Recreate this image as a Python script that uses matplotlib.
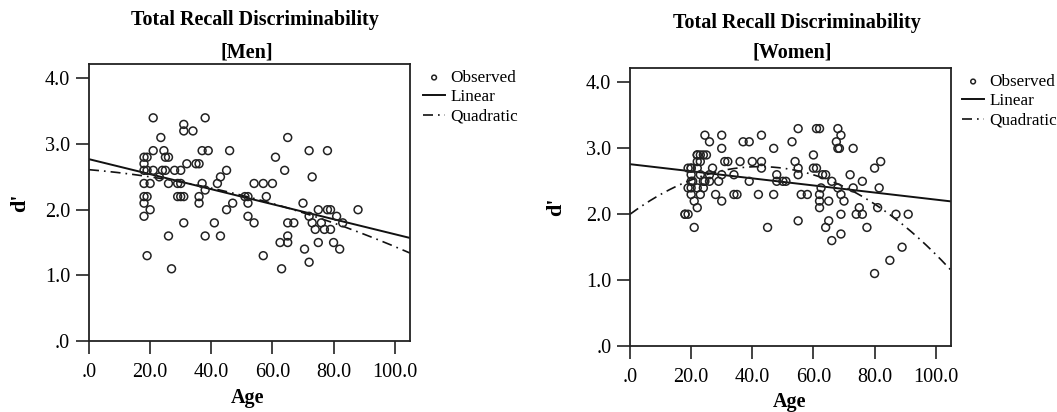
import numpy as np
import matplotlib
matplotlib.use('Agg')
import matplotlib.pyplot as plt
from matplotlib.ticker import FuncFormatter

plt.rcParams['font.family'] = ['Liberation Serif', 'DejaVu Serif']

# Men: age and d' values
men_age = [18, 18, 19, 18, 19, 18, 18, 19, 18, 18, 19, 20, 20, 21, 21, 21,
           23.5, 23, 24, 25, 24.5, 25, 26, 26, 26, 27, 28, 29, 30, 30, 29, 30, 31,
           31, 31, 31, 32, 34, 35, 36, 37, 36, 36, 37, 39, 38, 38, 38, 41, 42,
           43, 43, 45, 45, 46, 47, 51, 52, 52, 52, 54, 54, 57, 57, 58, 60, 61,
           62.5, 63, 64, 65, 65, 67, 65, 65, 70, 70.5, 72, 72, 72, 73, 73, 74,
           75, 75, 76, 77, 78, 78, 79, 79, 80, 81, 82, 83, 88]
men_d = [2.7, 2.8, 2.8, 2.6, 2.6, 2.4, 2.2, 2.2, 2.1, 1.9, 1.3, 2.4, 2.0, 2.6, 2.9, 3.4,
         3.1, 2.5, 2.6, 2.6, 2.9, 2.8, 2.8, 2.4, 1.6, 1.1, 2.6, 2.4, 2.4, 2.6, 2.2, 2.2, 2.2,
         3.3, 3.2, 1.8, 2.7, 3.2, 2.7, 2.7, 2.4, 2.2, 2.1, 2.9, 2.9, 3.4, 2.3, 1.6, 1.8, 2.4,
         2.5, 1.6, 2.6, 2.0, 2.9, 2.1, 2.2, 2.2, 2.1, 1.9, 2.4, 1.8, 2.4, 1.3, 2.2, 2.4, 2.8,
         1.5, 1.1, 2.6, 3.1, 1.8, 1.8, 1.6, 1.5, 2.1, 1.4, 2.9, 1.9, 1.2, 1.8, 2.5, 1.7,
         2.0, 1.5, 1.8, 1.7, 2.9, 2.0, 2.0, 1.7, 1.5, 1.9, 1.4, 1.8, 2.0]

# Women
women_age = [18, 18, 19, 19, 19, 20, 20, 20, 20, 20, 20, 20.5, 21, 21, 22,
             22, 22, 23, 24, 25, 22, 23, 22, 22, 23, 23, 24, 24, 24.5, 24.5,
             26, 26, 26, 27, 28, 29, 30, 30, 30, 30, 31, 32, 34, 34, 35, 36,
             37, 39, 39, 40, 42, 43, 43, 43, 45, 47, 47, 48, 48, 50, 51, 53,
             54, 55, 55, 55, 55, 56, 58, 60, 60, 61, 61, 62, 62, 62, 62, 62.5,
             63, 64, 64, 65, 65, 66, 66, 68, 67.5, 68, 68.5, 69, 68, 69, 69, 69,
             70, 72, 73, 73, 74, 75, 76, 76, 77.5, 80, 80, 81, 81.5, 82, 85,
             87, 89, 91]
women_d = [2.0, 2.0, 2.0, 2.4, 2.7, 2.7, 2.7, 2.6, 2.5, 2.4, 2.3, 2.5, 2.2, 1.8, 2.1,
           2.9, 2.9, 2.9, 2.9, 2.9, 2.8, 2.8, 2.7, 2.4, 2.6, 2.3, 2.4, 2.5, 2.5, 3.2,
           3.1, 2.5, 2.6, 2.7, 2.3, 2.5, 3.2, 3.0, 2.6, 2.2, 2.8, 2.8, 2.6, 2.3, 2.3, 2.8,
           3.1, 3.1, 2.5, 2.8, 2.3, 2.8, 2.7, 3.2, 1.8, 2.3, 3.0, 2.6, 2.5, 2.5, 2.5, 3.1,
           2.8, 2.7, 2.6, 3.3, 1.9, 2.3, 2.3, 2.9, 2.7, 2.7, 3.3, 3.3, 2.3, 2.2, 2.1, 2.4,
           2.6, 2.6, 1.8, 2.2, 1.9, 2.5, 1.6, 3.3, 3.1, 3.0, 3.0, 3.2, 2.4, 2.3, 2.0, 1.7,
           2.2, 2.6, 3.0, 2.4, 2.0, 2.1, 2.0, 2.5, 1.8, 2.7, 1.1, 2.1, 2.4, 2.8, 1.3,
           2.0, 1.5, 2.0]

# fitted curve coefficients, highest power first
men_linear = [-0.01143, 2.77]
men_quad = [-0.0000781, -0.0039, 2.61]
women_linear = [-0.00538, 2.76]
women_quad = [-0.0004016, 0.03407, 2.0]

x_ticks = [0, 20, 40, 60, 80, 100]
y_ticks = [0, 1, 2, 3, 4]


def spss_fmt(v, pos):
    s = f"{v:.1f}"
    return s[1:] if s.startswith("0") else s


fig = plt.figure(figsize=(10.57, 4.12), dpi=100)
dash_dot = (0, (6, 3, 1, 3))


def draw_panel(rect, age, d, lin, quad, group, title_xy, group_xy, ylab_xy, xlab_xy, leg_xy):
    ax = fig.add_axes(rect)
    ax.scatter(age, d, s=32, facecolors='none', edgecolors='#222222',
               linewidths=1.1, label='Observed', zorder=3)
    xs = np.linspace(0, 105, 300)
    ax.plot(xs, np.polyval(lin, xs), color='#111111', lw=1.4, label='Linear')
    ax.plot(xs, np.polyval(quad, xs), color='#111111', lw=1.2,
            linestyle=dash_dot, label='Quadratic')
    ax.set_xlim(0, 105)
    ax.set_ylim(0, 4.22)
    ax.set_xticks(x_ticks)
    ax.set_yticks(y_ticks)
    ax.xaxis.set_major_formatter(FuncFormatter(spss_fmt))
    ax.yaxis.set_major_formatter(FuncFormatter(spss_fmt))
    ax.tick_params(direction='out', length=9.5, width=1.2, labelsize=14.5,
                   color='#222222', top=False, right=False)
    ax.tick_params(axis='x', pad=6)
    ax.tick_params(axis='y', pad=4)
    for sp in ax.spines.values():
        sp.set_linewidth(1.3)
        sp.set_color('#222222')
    fig.text(title_xy[0], title_xy[1], 'Total Recall Discriminability',
             ha='center', va='center', fontsize=14.5, fontweight='bold')
    fig.text(group_xy[0], group_xy[1], group, ha='center', va='center',
             fontsize=14.5, fontweight='bold')
    fig.text(ylab_xy[0], ylab_xy[1], "d'", ha='center', va='center',
             rotation=90, fontsize=16, fontweight='bold')
    fig.text(xlab_xy[0], xlab_xy[1], 'Age', ha='center', va='center',
             fontsize=14.5, fontweight='bold')
    ax.legend(loc='upper left', bbox_to_anchor=leg_xy, bbox_transform=fig.transFigure,
              frameon=False, fontsize=12.3, handlelength=1.3, handletextpad=0.3,
              labelspacing=0.2, borderaxespad=0, borderpad=0, markerscale=0.6)
    return ax


H = 412.0
W = 1057.0
draw_panel([89 / W, 1 - 341 / H, 321 / W, 277 / H], men_age, men_d, men_linear, men_quad,
           '[Men]', (255 / W, 1 - 20 / H), (247 / W, 1 - 52 / H), (20 / W, 1 - 203 / H),
           (248 / W, 1 - 398 / H), (423 / W, 1 - 70 / H))
draw_panel([630 / W, 1 - 346 / H, 321 / W, 278 / H], women_age, women_d, women_linear, women_quad,
           '[Women]', (797 / W, 1 - 23 / H), (792 / W, 1 - 53 / H), (556 / W, 1 - 207 / H),
           (790 / W, 1 - 402 / H), (962 / W, 1 - 74 / H))

plt.savefig('out.png', dpi=100)
plt.close()
